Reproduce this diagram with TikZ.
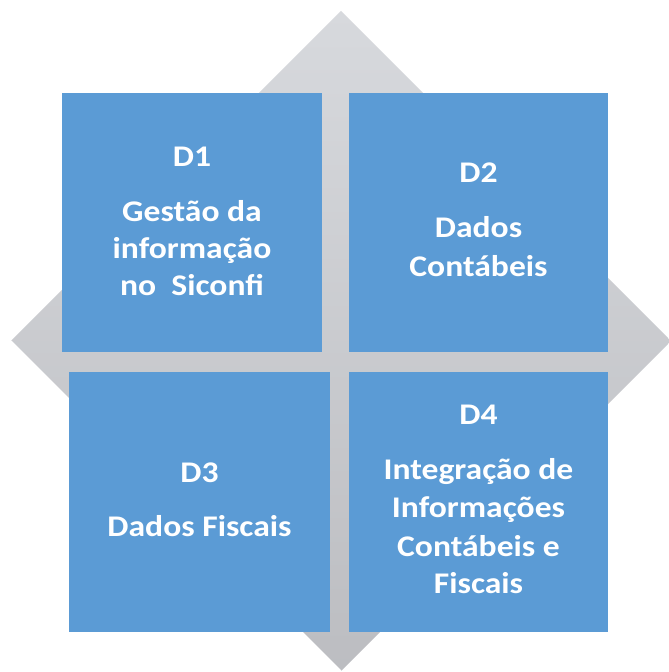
\documentclass[tikz,border=0pt]{standalone}
\usepackage{fontspec}
\setmainfont{Carlito}
\newfontfamily\boxfont[FakeStretch=1.12]{Carlito}
\definecolor{boxblue}{HTML}{5B9BD5}
\definecolor{diatop}{HTML}{D7D9DD}
\definecolor{diabot}{HTML}{BCBDC1}
\begin{document}
\begin{tikzpicture}[x=1pt,y=1pt,
  box/.style={fill=boxblue, draw=none},
  lbl/.style={text=white, font=\boxfont\bfseries\fontsize{30}{38}\selectfont, anchor=base, inner sep=0pt}]
\useasboundingbox (0,0) rectangle (669,672);
% diamond background
\shade[top color=diatop, bottom color=diabot] (341,661) -- (671,331) -- (341,1) -- (11,331) -- cycle;
\draw[white, line width=1.2pt] (11,331) -- (341,1);
% boxes
\fill[box] (62,320) rectangle (322,579);
\fill[box] (349,320) rectangle (608,579);
\fill[box] (69,40) rectangle (330,300);
\fill[box] (349,40) rectangle (608,300);
% labels D1
\node[lbl] (t1a) at (192,505) {D1};
\node[lbl] (t1b) at (192,450) {Gestão da};
\node[lbl] (t1c) at (192,413) {informação};
\node[lbl] (t1d) at (192,376) {no~~Siconfi};
% labels D2
\node[lbl] (t2a) at (478.5,489) {D2};
\node[lbl] (t2b) at (478.5,434) {Dados};
\node[lbl] (t2c) at (478.5,395) {Contábeis};
% labels D3
\node[lbl] (t3a) at (199.5,189) {D3};
\node[lbl] (t3b) at (199.5,135) {Dados Fiscais};
% labels D4
\node[lbl] (t4a) at (478.5,247) {D4};
\node[lbl] (t4b) at (478.5,192) {Integração de};
\node[lbl] (t4c) at (478.5,154) {Informações};
\node[lbl] (t4d) at (478.5,115) {Contábeis e};
\node[lbl] (t4e) at (478.5,78) {Fiscais};
\end{tikzpicture}
\end{document}
